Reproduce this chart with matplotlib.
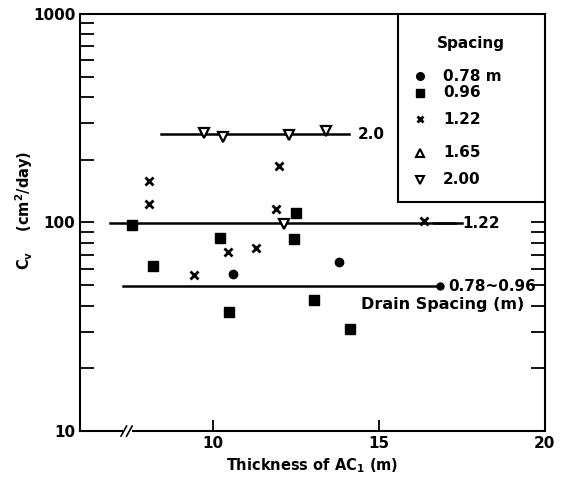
import matplotlib
matplotlib.use("Agg")
import matplotlib.pyplot as plt
from matplotlib.patches import Rectangle
from matplotlib.ticker import FixedLocator, LogLocator, NullFormatter

plt.rcParams['font.family'] = ['DejaVu Sans']

# ---- data ----
x_078 = [10.6, 13.8]
y_078 = [56.5, 65.0]
x_096 = [7.57, 8.2, 10.21, 10.48, 12.51, 12.45, 13.05, 14.13]
y_096 = [97, 62, 84, 37.2, 111, 83.4, 42.5, 30.8]
x_122 = [8.08, 8.08, 11.98, 11.89, 10.45, 9.43, 11.31, 16.37]
y_122 = [158, 123, 187, 116, 72, 56, 75.5, 102]
x_200 = [9.73, 10.30, 12.30, 13.41, 12.13]
y_200 = [268, 258, 263, 275, 98]

trend_levels = [265, 99, 49.5]
trend_x0 = [8.45, 6.9, 7.3]
trend_x1 = [14.1, 17.3, 16.84]
trend_labels = ['2.0', '1.22', '0.78~0.96']

legend_title = 'Spacing'
legend_labels = ['0.78 m', '0.96', '1.22', '1.65', '2.00']

xticks = [10, 15, 20]
yticks = [10, 100, 1000]

fig = plt.figure(figsize=(5.64, 4.79), dpi=100)
ax = fig.add_axes([0.142, 0.100, 0.824, 0.871])
ax.set_yscale('log')
ax.set_xlim(6, 20)
ax.set_ylim(10, 1000)

K = 'black'
# trend lines
for lv, a, b in zip(trend_levels, trend_x0, trend_x1):
    ax.plot([a, b], [lv, lv], color=K, lw=1.8, zorder=2)
ax.plot([trend_x1[2]], [trend_levels[2]], 'o', color=K, ms=5, zorder=3)
ax.plot([16.65, 17.5], [trend_levels[1]] * 2, color=K, lw=1.8)

ax.text(14.35, trend_levels[0], trend_labels[0], fontsize=11, fontweight='bold', va='center', ha='left')
ax.text(17.5, trend_levels[1], trend_labels[1], fontsize=11, fontweight='bold', va='center', ha='left')
ax.text(17.1, trend_levels[2], trend_labels[2], fontsize=11, fontweight='bold', va='center', ha='left')
ax.text(14.45, 40.5, 'Drain Spacing (m)', fontsize=11.5, fontweight='bold', va='center', ha='left')

# data points
ax.plot(x_078, y_078, 'o', color=K, ms=6, zorder=4)
ax.plot(x_096, y_096, 's', color=K, ms=7, zorder=4)
ax.plot(x_122, y_122, 'x', color=K, ms=5.5, mew=2, zorder=4)
ax.plot(x_200, y_200, 'v', mfc='white', mec=K, ms=7, mew=1.6, zorder=4)

# legend drawn manually
ax.add_patch(Rectangle((0.684, 0.549), 0.316, 0.451, transform=ax.transAxes,
                       fc='white', ec=K, lw=1.5, zorder=5))
ax.text(0.84, 0.930, legend_title, transform=ax.transAxes, fontsize=11, fontweight='bold',
        ha='center', va='center', zorder=6)
rows = [0.851, 0.811, 0.748, 0.667, 0.602]
styles = [dict(marker='o', color=K, ms=5.5),
          dict(marker='s', color=K, ms=6),
          dict(marker='x', color=K, ms=5, mew=2),
          dict(marker='^', mfc='white', mec=K, ms=6, mew=1.5),
          dict(marker='v', mfc='white', mec=K, ms=6, mew=1.5)]
for r, lab, st in zip(rows, legend_labels, styles):
    ax.plot([0.731], [r], transform=ax.transAxes, ls='none', zorder=6, **st)
    ax.text(0.781, r, lab, transform=ax.transAxes, fontsize=11, fontweight='bold',
            ha='left', va='center', zorder=6)

# axes styling
for s in ax.spines.values():
    s.set_linewidth(1.5)
ax.xaxis.set_major_locator(FixedLocator(xticks))
ax.set_xticklabels([str(t) for t in xticks], fontsize=11, fontweight='bold')
ax.yaxis.set_major_locator(FixedLocator(yticks))
ax.set_yticklabels([str(t) for t in yticks], fontsize=11, fontweight='bold')
ax.yaxis.set_minor_locator(LogLocator(base=10, subs=range(2, 10)))
ax.yaxis.set_minor_formatter(NullFormatter())
ax.tick_params(axis='y', which='both', direction='in', length=10, width=1.3, left=True, right=True)
ax.tick_params(axis='x', which='major', direction='in', length=8, width=1.3, top=False)
ax.tick_params(axis='x', which='minor', bottom=False)

# axis break mark
ax.add_patch(Rectangle((0.092, -0.01), 0.02, 0.02, transform=ax.transAxes, fc='white', ec='none',
                       zorder=7, clip_on=False))
for dx in (0.092, 0.104):
    ax.plot([dx - 0.004, dx + 0.008], [-0.012, 0.012], transform=ax.transAxes, color=K, lw=1.2,
            zorder=8, clip_on=False)

ax.set_xlabel('Thickness of AC$_\\mathbf{1}$ (m)', fontsize=10.5, fontweight='bold', labelpad=4)
ax.set_ylabel('C$_\\mathbf{v}$    (cm$^\\mathbf{2}$/day)', fontsize=10.5, fontweight='bold')
ax.yaxis.set_label_coords(-0.097, 0.53)

fig.savefig('out.png', dpi=100)
